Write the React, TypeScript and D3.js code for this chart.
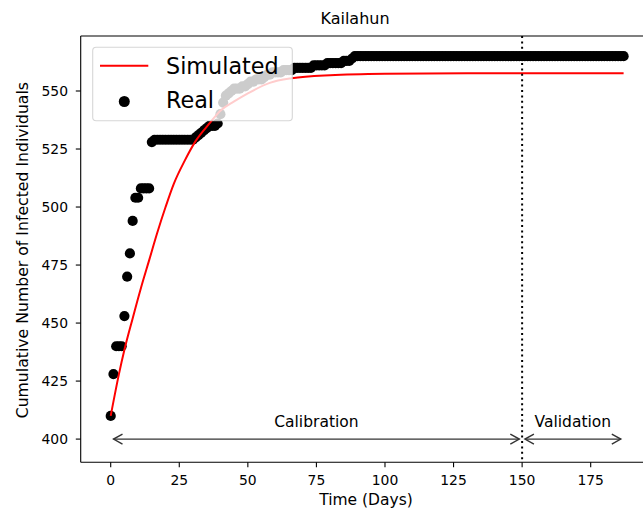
import React from "react";
import * as d3 from "d3";

// ---- Data ----
// Real cumulative infected (one value per day, day index = position)
const realCases: number[] = [
  410, 428, 440, 440, 440, 453, 470, 480, 494, 504, // 0-9
  504, 508, 508, 508, 508, 528, 529, 529, 529, 529, // 10-19
  529, 529, 529, 529, 529, 529, 529, 529, 529, 529, // 20-29
  529, 530, 531, 532, 533, 534, 535, 535, 535, 536, // 30-39
  540, 545, 548, 549, 550, 551, 551, 551, 552, 552, // 40-49
  553, 554, 554, 555, 555, 555, 556, 557, 557, 558, // 50-59
  558, 558, 558, 559, 559, 559, 559, 560, 560, 560, // 60-69
  560, 560, 560, 560, 561, 561, 561, 561, 561, 562, // 70-79
  562, 562, 562, 562, 562, 563, 563, 563, 564, 565, // 80-89
  565, 565, 565, 565, 565, 565, 565, 565, 565, 565, // 90-99
  565, 565, 565, 565, 565, 565, 565, 565, 565, 565, // 100-109
  565, 565, 565, 565, 565, 565, 565, 565, 565, 565, // 110-119
  565, 565, 565, 565, 565, 565, 565, 565, 565, 565, // 120-129
  565, 565, 565, 565, 565, 565, 565, 565, 565, 565, // 130-139
  565, 565, 565, 565, 565, 565, 565, 565, 565, 565, // 140-149
  565, 565, 565, 565, 565, 565, 565, 565, 565, 565, // 150-159
  565, 565, 565, 565, 565, 565, 565, 565, 565, 565, // 160-169
  565, 565, 565, 565, 565, 565, 565, 565, 565, 565, // 170-179
  565, 565, 565, 565, 565, 565, 565, 565,           // 180-187
];

// Simulated curve (read at sample days)
const simDays: number[] = [0, 3, 5, 8, 11, 14, 17, 20, 23, 27, 31, 36, 40, 45, 50, 58, 66, 80, 100, 130, 187];
const simValues: number[] = [410, 428, 438.5, 452, 465, 477, 489, 500, 510, 520, 528.5, 536, 541.5, 545.5, 549, 553.5, 555.5, 556.8, 557.4, 557.6, 557.6];

const xTicks: number[] = [0, 25, 50, 75, 100, 125, 150, 175];
const yTicks: number[] = [400, 425, 450, 475, 500, 525, 550];

const splitDay = 150;
const lastDay = 187;
const arrowLevel = 400;
const labelLevel = 405;

const FONT = "DejaVu Sans, sans-serif";

export default function App() {
  const left = 80.7, right = 645, top = 36, bottom = 462.3;
  const x = d3.scaleLinear().domain([-10.94, 194.8]).range([left, right]);
  const y = d3.scaleLinear().domain([390, 573.7]).range([bottom, top]);

  const line = d3
    .line<number>()
    .x((_, i) => x(simDays[i]))
    .y((d) => y(d))
    .curve(d3.curveMonotoneX);

  const arrow = (x0: number, x1: number, key: string) => {
    const shrink = 2.8;
    const a = x(x0) + shrink;
    const b = x(x1) - shrink;
    const yy = y(arrowLevel);
    const hl = 9, hw = 5;
    return (
      <g key={key} stroke="#333" strokeWidth={1.4} fill="none">
        <line x1={a} y1={yy} x2={b} y2={yy} />
        <polyline points={`${a + hl},${yy - hw} ${a},${yy} ${a + hl},${yy + hw}`} />
        <polyline points={`${b - hl},${yy - hw} ${b},${yy} ${b - hl},${yy + hw}`} />
      </g>
    );
  };

  return (
    <svg
      width={643}
      height={517}
      style={{ position: "absolute", left: 0, top: 0, display: "block", background: "#fff" }}
      fontFamily={FONT}
    >
      <defs>
        <clipPath id="plotArea">
          <rect x={left} y={top} width={right - left} height={bottom - top} />
        </clipPath>
      </defs>
      <rect x={0} y={0} width={643} height={517} fill="#fff" />

      {/* title */}
      <text x={355} y={24} textAnchor="middle" fontSize={16} fill="#000">
        Kailahun
      </text>

      <g clipPath="url(#plotArea)">
        {/* real data points */}
        {realCases.map((v, i) => (
          <circle key={i} cx={x(i)} cy={y(v)} r={5.1} fill="#000" />
        ))}
        {/* simulated */}
        <path d={line(simValues) || ""} fill="none" stroke="#ff0000" strokeWidth={2} />
        {/* vertical split */}
        <line
          x1={x(splitDay)}
          x2={x(splitDay)}
          y1={top}
          y2={bottom}
          stroke="#000"
          strokeWidth={2}
          strokeDasharray="2,3.4"
        />
      </g>

      {/* annotations */}
      {arrow(0, splitDay, "cal")}
      {arrow(splitDay, lastDay, "val")}
      <text x={x(splitDay / 2)} y={y(labelLevel)} textAnchor="middle" fontSize={15.5} fill="#000">
        Calibration
      </text>
      <text x={x((splitDay + lastDay) / 2)} y={y(labelLevel)} textAnchor="middle" fontSize={15.5} fill="#000">
        Validation
      </text>

      {/* axes spines */}
      <g stroke="#000" strokeWidth={1.1} fill="none">
        <line x1={left} y1={top} x2={right} y2={top} />
        <line x1={left} y1={bottom} x2={right} y2={bottom} />
        <line x1={left} y1={top} x2={left} y2={bottom} />
        <line x1={right} y1={top} x2={right} y2={bottom} />
      </g>

      {/* x ticks */}
      {xTicks.map((t) => (
        <g key={"xt" + t}>
          <line x1={x(t)} x2={x(t)} y1={bottom} y2={bottom + 4.9} stroke="#000" strokeWidth={1.1} />
          <text x={x(t)} y={484.5} textAnchor="middle" fontSize={13.9} fill="#000">
            {t}
          </text>
        </g>
      ))}
      {/* y ticks */}
      {yTicks.map((t) => (
        <g key={"yt" + t}>
          <line x1={left - 4.9} x2={left} y1={y(t)} y2={y(t)} stroke="#000" strokeWidth={1.1} />
          <text x={68} y={y(t) + 5} textAnchor="end" fontSize={13.9} fill="#000">
            {t}
          </text>
        </g>
      ))}

      {/* axis labels */}
      <text x={366} y={505} textAnchor="middle" fontSize={15.5} fill="#000">
        Time (Days)
      </text>
      <text
        transform={`translate(28, ${(top + bottom) / 2 + 1}) rotate(-90)`}
        textAnchor="middle"
        fontSize={15.7}
        fill="#000"
      >
        Cumulative Number of Infected Individuals
      </text>

      {/* legend */}
      <g>
        <rect
          x={92.7}
          y={47.3}
          width={199.6}
          height={73.4}
          rx={3.5}
          fill="#fff"
          fillOpacity={0.8}
          stroke="#ccc"
          strokeOpacity={0.8}
          strokeWidth={1.1}
        />
        <line x1={100} x2={148.3} y1={65.7} y2={65.7} stroke="#ff0000" strokeWidth={2} />
        <text x={166} y={73.6} fontSize={22.3} fill="#000">
          Simulated
        </text>
        <circle cx={124.3} cy={101.5} r={5.5} fill="#000" />
        <text x={166} y={108} fontSize={22.3} fill="#000">
          Real
        </text>
      </g>
    </svg>
  );
}
